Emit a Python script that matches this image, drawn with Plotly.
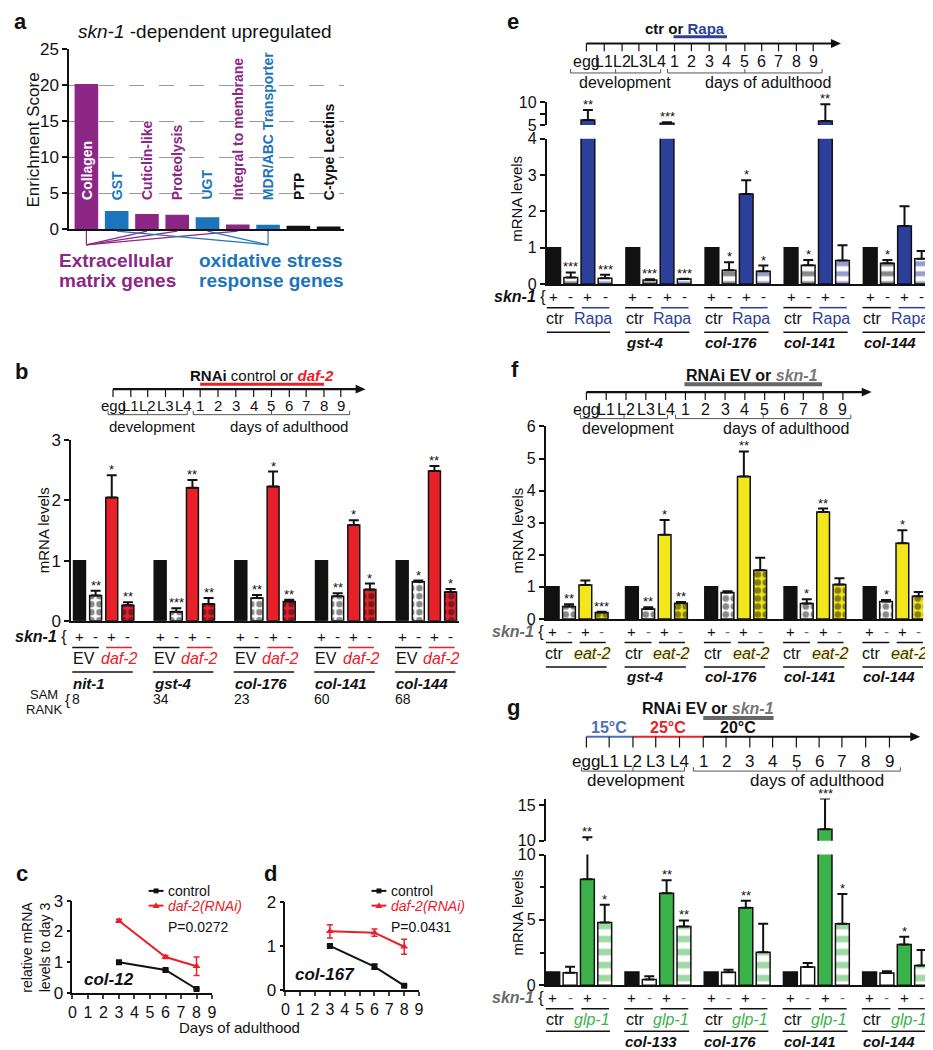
import plotly.graph_objects as go

W, H = 933, 1050
FONT = "Liberation Sans, Arial, Helvetica, sans-serif"
BLACK = "#111111"
PURPLE = "#8c2785"
BLUE_A = "#1b75bc"
RED = "#e8202a"
RAPA = "#2c3f9b"
YELLOW = "#f3e61a"
GREEN = "#3bb34a"
GRAY = "#6a6a6a"

# ---------------- data ----------------
a_categories = ["Collagen", "GST", "Cuticlin-like", "Proteolysis", "UGT",
                "Integral to membrane", "MDR/ABC Transporter", "PTP", "C-type Lectins"]
a_scores = [20.2, 2.5, 2.1, 2.0, 1.65, 0.65, 0.6, 0.45, 0.35]
a_groups = ["ecm", "ox", "ecm", "ecm", "ox", "ecm", "ox", "other", "other"]

timeline_labels = ["egg", "L1", "L2", "L3", "L4", "1", "2", "3", "4", "5", "6", "7", "8", "9"]
skn1_signs = ["+", "-", "+", "-"]

b_genes = ["nit-1", "gst-4", "col-176", "col-141", "col-144"]
b_values = [[1, 0.42, 2.05, 0.26], [1, 0.15, 2.21, 0.28], [1, 0.38, 2.23, 0.32],
            [1, 0.41, 1.59, 0.52], [1, 0.65, 2.49, 0.48]]
b_errors = [[0, 0.08, 0.37, 0.05], [0, 0.06, 0.13, 0.10], [0, 0.05, 0.25, 0.03],
            [0, 0.05, 0.08, 0.10], [0, 0.02, 0.08, 0.05]]
b_stars = [["", "**", "*", "**"], ["", "***", "**", "**"], ["", "**", "*", "**"],
           ["", "**", "*", "*"], ["", "*", "**", "*"]]
b_sam_rank = [8, 34, 23, 60, 68]

c_days = [3, 6, 8]
c_control = [1.0, 0.75, 0.13]
c_control_err = [0.02, 0.03, 0.02]
c_daf2 = [2.35, 1.17, 0.87]
c_daf2_err = [0.05, 0.05, 0.30]
d_control = [1.0, 0.53, 0.10]
d_control_err = [0.02, 0.06, 0.02]
d_daf2 = [1.33, 1.30, 0.98]
d_daf2_err = [0.15, 0.08, 0.17]

e_genes = ["nit-1", "gst-4", "col-176", "col-141", "col-144"]
e_values = [[1, 0.18, 6.1, 0.16], [1, 0.11, 5.4, 0.14], [1, 0.38, 2.48, 0.35],
            [1, 0.52, 5.9, 0.65], [1, 0.57, 1.6, 0.70]]
e_errors = [[0, 0.14, 2.2, 0.10], [0, 0.02, 0.2, 0.01], [0, 0.22, 0.38, 0.16],
            [0, 0.14, 3.7, 0.42], [0, 0.09, 0.54, 0.21]]
e_stars = [["", "***", "**", "***"], ["", "***", "***", "***"], ["", "*", "*", "*"],
           ["", "*", "**", ""], ["", "*", "", ""]]

f_genes = ["nit-1", "gst-4", "col-176", "col-141", "col-144"]
f_values = [[1, 0.39, 1.06, 0.20], [1, 0.31, 2.62, 0.49], [1, 0.82, 4.44, 1.52],
            [1, 0.48, 3.33, 1.07], [1, 0.54, 2.36, 0.71]]
f_errors = [[0, 0.07, 0.14, 0.02], [0, 0.05, 0.46, 0.04], [0, 0.04, 0.78, 0.39],
            [0, 0.13, 0.11, 0.20], [0, 0.05, 0.40, 0.13]]
f_stars = [["", "**", "", "***"], ["", "**", "*", "**"], ["", "", "**", ""],
           ["", "*", "**", ""], ["", "*", "*", ""]]

g_genes = ["col-12/13", "col-133", "col-176", "col-141", "col-144"]
g_values = [[1, 0.95, 8.1, 4.8], [1, 0.43, 7.03, 4.5], [1, 0.98, 5.92, 2.52],
            [1, 1.39, 11.6, 4.71], [1, 0.93, 3.12, 1.51]]
g_errors = [[0, 0.45, 2.4, 1.35], [0, 0.25, 1.0, 0.46], [0, 0.20, 0.55, 2.19],
            [0, 0.30, 4.3, 2.27], [0, 0.13, 0.58, 1.19]]
g_stars = [["", "", "**", "*"], ["", "", "**", "**"], ["", "", "**", ""],
           ["", "", "***", "*"], ["", "", "*", ""]]


# ---------------- helpers ----------------
def fx(x):
    return x / W


def fy(y):
    return 1 - y / H


shapes = []
annotations = []
fig = go.Figure()


def text(x, y, s, size=14, color=BLACK, xanchor="center", yanchor="middle",
         xref="paper", yref="paper", angle=0, align="center", yshift=0, shadow=None):
    X = fx(x) if xref == "paper" else x
    Y = fy(y) if yref == "paper" else y
    font = dict(size=size, color=color, family=FONT)
    if shadow:
        font["shadow"] = shadow
    annotations.append(dict(x=X, y=Y, xref=xref, yref=yref, text=s, showarrow=False,
                            font=font, xanchor=xanchor, yanchor=yanchor, textangle=angle,
                            align=align, borderpad=0, yshift=yshift))


def pline(x0, y0, x1, y1, color=BLACK, width=1.5):
    shapes.append(dict(type="line", xref="paper", yref="paper", x0=fx(x0), y0=fy(y0),
                       x1=fx(x1), y1=fy(y1), line=dict(color=color, width=width)))


def ppath(path_pts, fill, closed=True):
    p = "M " + " L ".join(f"{fx(x)},{fy(y)}" for x, y in path_pts) + (" Z" if closed else "")
    shapes.append(dict(type="path", xref="paper", yref="paper", path=p,
                       fillcolor=fill, line=dict(width=0)))


def dline(xref, x0, x1, y, color=BLACK, width=1.5):
    shapes.append(dict(type="line", xref=xref, yref="paper", x0=x0, y0=fy(y),
                       x1=x1, y1=fy(y), line=dict(color=color, width=width)))


def brace(x0, x1, y):
    xc = (x0 + x1) / 2
    path = (f"M {fx(x0)},{fy(y - 4)} L {fx(x0)},{fy(y)} L {fx(x1)},{fy(y)} L {fx(x1)},{fy(y - 4)} "
            f"M {fx(xc)},{fy(y)} L {fx(xc)},{fy(y - 4)}")
    shapes.append(dict(type="path", xref="paper", yref="paper", path=path,
                       line=dict(color="#555555", width=1)))


def timeline(y, xs, arrow_end, label_y, size, brace_y, dev, days, dev_lab, days_lab,
             lab_y2, segs=None, tick=8):
    if segs:
        for (x0, x1, c) in segs:
            pline(x0, y, x1, y, c, 2.2)
    else:
        pline(xs[0], y, arrow_end - 6, y, BLACK, 2.2)
    ppath([(arrow_end, y), (arrow_end - 10, y - 4.5), (arrow_end - 10, y + 4.5)], BLACK)
    for x in xs:
        pline(x, y, x, y + tick, BLACK, 1.2)
    for x, lab in zip(xs, timeline_labels):
        text(x, label_y, lab, size)
    brace(dev[0], dev[1], brace_y)
    brace(days[0], days[1], brace_y)
    text(dev_lab, lab_y2, "development", size)
    text(days_lab, lab_y2, "days of adulthood", size)


def bar_panel(xa, ya, vals, errs, stars, G, bw, styles, up=None):
    n = len(vals)
    targets = [(xa, ya)] + ([(up[0], up[1])] if up else [])
    for i in range(4):
        xs = [g * G + i for g in range(n)]
        ys = [vals[g][i] for g in range(n)]
        es = [errs[g][i] for g in range(n)]
        for (xx, yy) in targets:
            eb = None
            if any(es):
                eb = dict(type="data", array=es, arrayminus=[0] * n, symmetric=False,
                          color=BLACK, thickness=2, width=5)
            fig.add_trace(go.Bar(x=xs, y=ys, width=bw, marker=styles[i], error_y=eb,
                                 xaxis=xx, yaxis=yy, showlegend=False, hoverinfo="skip"))
    for g in range(n):
        for i in range(4):
            s = stars[g][i]
            if not s:
                continue
            top = vals[g][i] + errs[g][i]
            xx, yy = xa, ya
            if up and top > up[2]:
                xx, yy = up[0], up[1]
            text(g * G + i, top, s, 13, xref=xx, yref=yy, yanchor="bottom", yshift=-3)


def under_labels(xa, G, genes, ys, cond1, cond2, cond2_color, line2_color, off1, off2,
                 minus_color=BLACK, shadow=None):
    y_pm, y_l1, y_lab, y_l2, y_gene = ys
    for g, gene in enumerate(genes):
        b0 = g * G
        for i, s in enumerate(skn1_signs):
            text(b0 + i, y_pm, s, 15, BLACK if s == "+" else minus_color, xref=xa)
        dline(xa, b0 - 0.45, b0 + 1.2, y_l1, BLACK)
        dline(xa, b0 + 1.65, b0 + 3.25, y_l1, line2_color)
        text(b0 + off1, y_lab, cond1, 16, BLACK, xref=xa)
        text(b0 + 2 + off2, y_lab, cond2, 16, cond2_color, xref=xa, shadow=shadow)
        dline(xa, b0 - 0.45, b0 + 3.3, y_l2, BLACK)
        text(b0 - 0.45, y_gene, f"<b><i>{gene}</i></b>", 15, xanchor="left", xref=xa)


def xax(dom, rng, anchor, **kw):
    d = dict(domain=[max(0, fx(dom[0])), min(1, fx(dom[1]))], range=rng, showgrid=False,
             zeroline=False, showticklabels=False, ticks="", showline=True, linecolor=BLACK,
             linewidth=2, fixedrange=True, anchor=anchor)
    d.update(kw)
    return d


def yax(top, bottom, rng, tickvals, anchor, size=16, **kw):
    d = dict(domain=[max(0, fy(bottom)), min(1, fy(top))], range=rng, tickvals=tickvals,
             showgrid=False, zeroline=False, showline=True, linecolor=BLACK, linewidth=2,
             ticks="outside", ticklen=5, tickwidth=2, tickcolor=BLACK, fixedrange=True,
             anchor=anchor, tickfont=dict(size=size, color=BLACK, family=FONT))
    d.update(kw)
    return d


# ---------------- panel a ----------------
a_colors = {"ecm": PURPLE, "ox": BLUE_A, "other": BLACK}
fig.add_trace(go.Bar(x=list(range(len(a_scores))), y=a_scores, width=0.78,
                     marker=dict(color=[a_colors[g] for g in a_groups], line=dict(width=0)),
                     xaxis="x", yaxis="y", showlegend=False, hoverinfo="skip"))
for i, (cat, grp) in enumerate(zip(a_categories, a_groups)):
    col = "white" if i == 0 else a_colors[grp]
    text(i, 3.9, f"<b>{cat}</b>", 14, col, xref="x", yref="y", yanchor="bottom", angle=-90)
ecm_idx = [i for i, g in enumerate(a_groups) if g == "ecm"]
ox_idx = [i for i, g in enumerate(a_groups) if g == "ox"]
for i in ecm_idx:
    shapes.append(dict(type="line", xref="x", yref="paper", x0=i, y0=fy(218), x1=ecm_idx[0],
                       y1=fy(232), line=dict(color=PURPLE, width=1.2)))
for i in ox_idx:
    shapes.append(dict(type="line", xref="x", yref="paper", x0=i, y0=fy(218), x1=ox_idx[-1],
                       y1=fy(232), line=dict(color=BLUE_A, width=1.2)))
text(195, 15, "<i>skn-1</i> -dependent upregulated", 19)
text(46, 248, "<b>Extracellular</b>", 19, PURPLE, xanchor="left")
text(46, 268, "<b>matrix genes</b>", 19, PURPLE, xanchor="left")
text(262, 248, "<b>oxidative stress</b>", 19, BLUE_A)
text(262, 268, "<b>response genes</b>", 19, BLUE_A)
text(22, 125, "Enrichment Score", 17, angle=-90)

# ---------------- panel b ----------------
timeline(379, [102, 120, 137, 155, 173, 190, 208, 226, 244, 262, 280, 297, 315, 332], 357,
         396, 15, 405, (97, 177), (183, 341), 142, 280, 417)
text(252, 365, f"<b>RNAi</b> control or <span style='color:{RED}'><b><i>daf-2</i></b></span>", 15)
pline(190, 374, 315, 374, RED, 3)
BL = dict(color=BLACK, width=1.5)
CHK = dict(shape=".", fgcolor=BLACK, fillmode="overlay", size=8, solidity=0.5)
b_styles = [
    dict(color=BLACK, line=BL),
    dict(color="white", pattern=CHK, line=BL),
    dict(color=RED, line=BL),
    dict(color=RED, pattern=CHK, line=BL),
]
bar_panel("x2", "y2", b_values, b_errors, b_stars, 5.0, 0.74, b_styles)
under_labels("x2", 5.0, b_genes, (631, 642, 653, 667, 679), "EV", "<i>daf-2</i>", RED, RED, 0.3, 0.45)
text(57, 631, "<b><i>skn-1</i></b> {", 16, xanchor="right")
text(32, 523, "mRNA levels", 15, angle=-90)
text(32, 690, "SAM", 13)
text(32, 705, "RANK", 13)
text(56, 695, "{", 15)
for g, r in enumerate(b_sam_rank):
    text(g * 5.0 - 0.5, 695, str(r), 14, xanchor="left", xref="x2")

# ---------------- panels c, d ----------------
for days, ctl, ctl_e, daf, daf_e, xa, ya in [
        (c_days, c_control, c_control_err, c_daf2, c_daf2_err, "x3", "y3"),
        (c_days, d_control, d_control_err, d_daf2, d_daf2_err, "x4", "y4")]:
    fig.add_trace(go.Scatter(x=days, y=ctl, mode="lines+markers", showlegend=False,
                             line=dict(color=BLACK, width=2),
                             marker=dict(symbol="square", size=6, color=BLACK),
                             error_y=dict(array=ctl_e, color=BLACK, thickness=1.5, width=3),
                             xaxis=xa, yaxis=ya, hoverinfo="skip"))
    fig.add_trace(go.Scatter(x=days, y=daf, mode="lines+markers", showlegend=False,
                             line=dict(color=RED, width=2),
                             marker=dict(symbol="triangle-up", size=7, color=RED),
                             error_y=dict(array=daf_e, color=RED, thickness=1.5, width=3),
                             xaxis=xa, yaxis=ya, hoverinfo="skip"))

# hand-drawn legends for c and d
for lx, pval in [(138, "P=0.0272"), (363, "P=0.0431")]:
    pline(lx, 890, lx + 15, 890, BLACK, 2)
    ppath([(lx + 5, 887.5), (lx + 10, 887.5), (lx + 10, 892.5), (lx + 5, 892.5)], BLACK)
    text(lx + 19, 890, "control", 14, xanchor="left")
    pline(lx, 905, lx + 15, 905, RED, 2)
    ppath([(lx + 7.5, 901.5), (lx + 11, 907.5), (lx + 4, 907.5)], RED)
    text(lx + 19, 905, "<i>daf-2(RNAi)</i>", 14, RED, xanchor="left")
    text(lx + 19, 927, pval, 14, xanchor="left")
text(72, 980, "<b><i>col-12</i></b>", 17, xanchor="left")
text(285, 975, "<b><i>col-167</i></b>", 17, xanchor="left")
text(24, 947, "relative mRNA<br>levels to day 3", 14, angle=-90)
text(230, 1029, "Days of adulthood", 15)

# ---------------- panel e ----------------
timeline(27, [580, 598, 616, 633, 651, 669, 686, 704, 721, 740, 757, 774, 792, 809], 837,
         45, 16, 57, (564, 655), (662, 818), 619, 763, 67)
text(680, 12, f"<b>ctr or <span style='color:{RAPA}'>Rapa</span></b>", 15)
pline(668, 20, 722, 20, RAPA, 3)
e_styles = [
    dict(color=BLACK, line=BL),
    dict(color="white", pattern=dict(shape="-", fgcolor=BLACK, fillmode="overlay", size=10, solidity=0.5), line=BL),
    dict(color=RAPA, line=BL),
    dict(color="white", pattern=dict(shape="-", fgcolor=RAPA, fillmode="overlay", size=10, solidity=0.5), line=BL),
]
bar_panel("x5", "y5", e_values, e_errors, e_stars, 4.62, 0.8, e_styles, up=("x6", "y6", 4))
under_labels("x5", 4.62, e_genes, (285, 296, 307, 321, 332), "ctr", "Rapa", RAPA, RAPA, 0.1, 0.3)
text(540, 285, "<b><i>skn-1</i></b> {", 16, xanchor="right")
text(510, 185, "mRNA levels", 15, angle=-90)

# ---------------- panel f ----------------
timeline(382, [580, 600, 620, 640, 660, 680, 700, 720, 740, 760, 780, 799, 819, 839], 868,
         400, 16, 409, (574, 662), (670, 847), 622, 782, 419)
text(747, 365, "<b>RNAi EV or <span style='color:#777777'><i>skn-1</i></span></b>", 16)
pline(679, 374, 818, 374, "#666666", 4)
CHK2 = dict(shape=".", fgcolor=BLACK, fillmode="overlay", size=8, solidity=0.55)
f_styles = [
    dict(color=BLACK, line=BL),
    dict(color="white", pattern=CHK2, line=BL),
    dict(color=YELLOW, line=BL),
    dict(color=YELLOW, pattern=CHK2, line=BL),
]
bar_panel("x7", "y7", f_values, f_errors, f_stars, 4.85, 0.78, f_styles)
under_labels("x7", 4.85, f_genes, (626, 637, 648, 662, 672), "ctr", "<i>eat-2</i>", "#333333",
             BLACK, 0.1, 0.45, minus_color=GRAY, shadow="0px 0px 3px #f3e61a")
text(538, 626, f"<span style='color:{GRAY}'><b><i>skn-1</i></b></span> {{", 16, xanchor="right")
text(510, 523, "mRNA levels", 15, angle=-90)

# ---------------- panel g ----------------
timeline(733, [580, 603, 627, 650, 674, 698, 721, 745, 768, 792, 815, 838, 862, 886], 917,
         758, 17, 768, (575, 679), (688, 897), 630, 813, 778,
         segs=[(580, 627, "#4a6fc0"), (627, 698, RED), (698, 910, BLACK)], tick=11)
text(703, 704, "<b>RNAi EV or <span style='color:#777777'><i>skn-1</i></span></b>", 16)
pline(698, 714, 769, 714, "#666666", 4)
text(603, 724, "<b>15°C</b>", 16, "#4a6fc0")
text(662, 724, "<b>25°C</b>", 16, RED)
text(733, 724, "<b>20°C</b>", 16, BLACK)
g_styles = [
    dict(color=BLACK, line=BL),
    dict(color="white", line=BL),
    dict(color=GREEN, line=BL),
    dict(color="white", pattern=dict(shape="-", fgcolor=GREEN, fillmode="overlay", size=13, solidity=0.5), line=BL),
]
bar_panel("x8", "y8", g_values, g_errors, g_stars, 4.57, 0.8, g_styles, up=("x9", "y9", 10))
under_labels("x8", 4.57, g_genes, (999, 1010, 1021, 1033, 1043), "ctr", "<i>glp-1</i>", GREEN,
             BLACK, 0.15, 0.25, minus_color=GRAY)
text(538, 999, f"<span style='color:{GRAY}'><b><i>skn-1</i></b></span> {{", 16, xanchor="right")
text(510, 912, "mRNA levels", 15, angle=-90)

# ---------------- panel labels ----------------
for lab, x, y in [("a", 1, 5), ("b", 2, 361), ("c", 3, 872), ("d", 253, 872),
                  ("e", 499, 5), ("f", 503, 359), ("g", 499, 703)]:
    text(x, y, f"<b>{lab}</b>", 22, xanchor="left")

# ---------------- layout ----------------
TF = dict(size=16, family=FONT, color=BLACK)
E_RANGE = [-0.4, 22.26]
fig.update_layout(
    width=W, height=H, margin=dict(l=0, r=0, t=0, b=0),
    paper_bgcolor="white", plot_bgcolor="white", barmode="overlay",
    font=dict(family=FONT, color=BLACK), showlegend=False,
    xaxis=xax((58, 335), [-0.56, 8.5], "y"),
    yaxis=yax(33, 216, [0, 25], [0, 5, 10, 15, 20, 25], "x", size=17, showgrid=True,
              gridcolor="#9a9a9a", griddash="longdash", gridwidth=1),
    xaxis2=xax((60, 451), [-0.5, 23.5], "y2"),
    yaxis2=yax(431, 615, [0, 3], [0, 1, 2, 3], "x2", size=17),
    xaxis3=xax((61, 202), [0, 9], "y3", showticklabels=True, tickvals=list(range(10)),
               ticks="outside", ticklen=4, tickwidth=1.5, linewidth=1.5, tickfont=TF),
    yaxis3=yax(900, 994, [0, 3], [0, 1, 2, 3], "x3", size=17, linewidth=1.5, tickwidth=1.5, ticklen=4),
    xaxis4=xax((276, 411), [0, 9], "y4", showticklabels=True, tickvals=list(range(10)),
               ticks="outside", ticklen=4, tickwidth=1.5, linewidth=1.5, tickfont=TF),
    yaxis4=yax(901, 991, [0, 2], [0, 1, 2], "x4", size=17, linewidth=1.5, tickwidth=1.5, ticklen=4),
    xaxis5=xax((540, 932), E_RANGE, "y5"),
    yaxis5=yax(124, 272, [0, 4], [0, 1, 2, 3, 4], "x5"),
    xaxis6=xax((540, 932), E_RANGE, "y6", visible=False, matches="x5"),
    yaxis6=yax(87, 110, [5, 10], [5, 7.5, 10], "x6", ticktext=["5", "", "10"]),
    xaxis7=xax((539, 920), [-0.42, 22.67], "y7"),
    yaxis7=yax(417, 613, [0, 6], [0, 1, 2, 3, 4, 5, 6], "x7"),
    xaxis8=xax((539, 923), [-0.4, 21.54], "y8"),
    yaxis8=yax(853, 986, [0, 10], [0, 5, 10], "x8",
               minor=dict(tickvals=[2.5, 7.5], ticks="outside", ticklen=4, tickwidth=1.5, tickcolor=BLACK)),
    xaxis9=xax((539, 923), [-0.4, 21.54], "y9", visible=False, matches="x8"),
    yaxis9=yax(796, 839, [10, 15.9], [10, 15], "x9"),
    shapes=shapes, annotations=annotations,
)

fig.write_html("out.html")
